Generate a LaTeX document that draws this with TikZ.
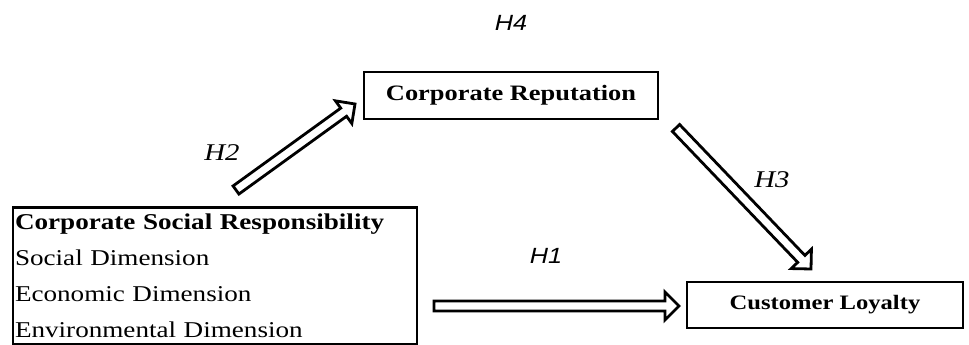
\documentclass[tikz,border=0pt]{standalone}
\usepackage{fontspec}
\setmainfont{Liberation Serif}[FakeStretch=1.2]
\newfontfamily\hsans{Liberation Sans}[FakeStretch=1.15]
\usetikzlibrary{calc}
\tikzset{
  box/.style={draw=black, line width=2.8pt, inner sep=0pt},
  hyp/.style={font=\fontsize{24}{28}\selectfont\itshape},
  hyps/.style={font=\hsans\fontsize{22}{26}\selectfont\itshape},
  hollow/.style={line width=2.8pt, line join=miter, to path={
    let \p1=(\tikztostart), \p2=(\tikztotarget),
        \p3=($(\p2)!14pt!(\p1)$) in
    ($(\p1)!5pt!90:(\p2)$) -- ($(\p3)!5pt!90:(\p2)$) -- ($(\p3)!14pt!90:(\p2)$)
    -- (\p2) -- ($(\p3)!14pt!-90:(\p2)$) -- ($(\p3)!5pt!-90:(\p2)$)
    -- ($(\p1)!5pt!-90:(\p2)$) -- cycle }}
}
\begin{document}
\begin{tikzpicture}[x=1pt,y=1pt]
\useasboundingbox (0,0) rectangle (969,345);
% nodes
\node[box, minimum width=404pt, minimum height=137pt, text width=400pt, align=left,
      font=\fontsize{22.6}{36}\selectfont] (csr) at (215,69)
  {\textbf{Corporate Social Responsibility}\\Social Dimension\\Economic Dimension\\Environmental Dimension};
\node[box, minimum width=294pt, minimum height=47pt, font=\fontsize{22}{26}\selectfont\bfseries] (rep) at (511,249.5) {Corporate Reputation};
\node[box, minimum width=276pt, minimum height=46pt, font=\fontsize{20.5}{24}\selectfont\bfseries] (cl) at (825,40) {Customer Loyalty};
% arrow endpoints
\coordinate (h1s) at (434,39);
\coordinate (h1e) at (679,39);
\coordinate (h2s) at (236,155);
\coordinate (h2e) at (355,241);
\coordinate (h3s) at (676,217);
\coordinate (h3e) at (811,76);
\draw[hollow] (h1s) to (h1e);
\draw[hollow] (h2s) to (h2e);
\draw[hollow] (h3s) to (h3e);
% labels
\node[hyps] (l4) at (511,322) {H4};
\node[hyps] (l1) at (546,89) {H1};
\node[hyp] (l2) at (222,192) {H2};
\node[hyp] (l3) at (772,165) {H3};
\end{tikzpicture}
\end{document}
